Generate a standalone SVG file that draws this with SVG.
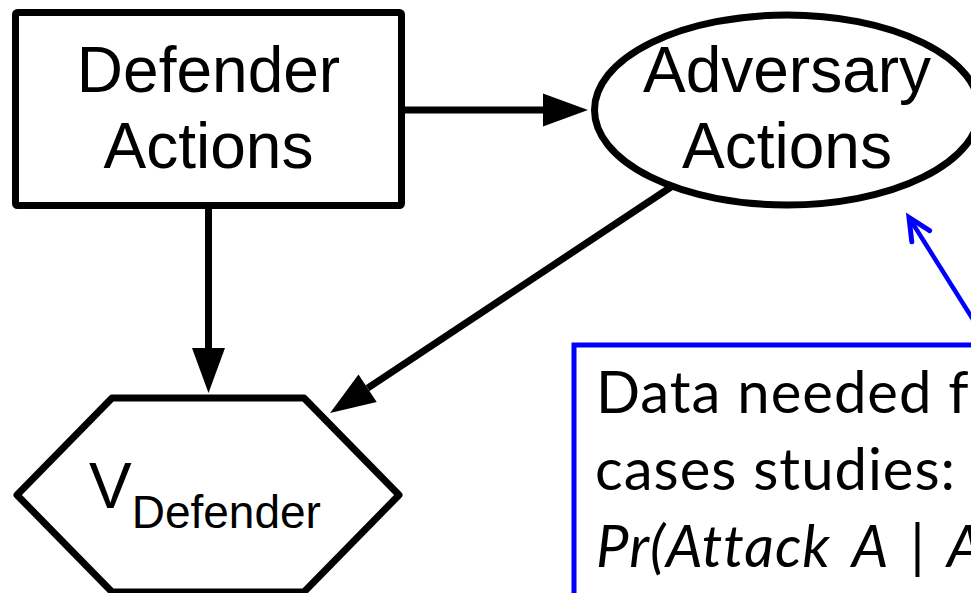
<svg xmlns="http://www.w3.org/2000/svg" width="971" height="593" viewBox="0 0 971 593">
<style>
.shape{fill:#fff;stroke:#000;stroke-width:7;stroke-linejoin:round}
.lbl{font-family:"Liberation Sans",Arial,sans-serif;font-size:64px;fill:#000;text-anchor:middle}
.edge{stroke:#000;stroke-width:7;fill:none}
.note{font-family:Lato,"Open Sans",sans-serif;font-size:58px;fill:#000;letter-spacing:1px;font-variant-ligatures:none}
</style>
<defs>
<marker id="ah" markerUnits="userSpaceOnUse" markerWidth="46" markerHeight="34" refX="0" refY="16.5" orient="auto" overflow="visible">
<path d="M0,0 L45,16.5 L0,33 Z" fill="#000"/>
</marker>
<marker id="bh" markerUnits="userSpaceOnUse" markerWidth="30" markerHeight="30" refX="0" refY="0" orient="auto" overflow="visible">
<path d="M-22,-10.5 L0,0 L-22,10.5" fill="none" stroke="#0000FF" stroke-width="5" stroke-linecap="round" stroke-linejoin="miter"/>
</marker>
</defs>
<rect width="971" height="593" fill="#fff"/>
<g id="connectors">
<line class="edge" x1="405" y1="110" x2="543" y2="110" marker-end="url(#ah)"/>
<line class="edge" x1="208.5" y1="209" x2="208.5" y2="348" marker-end="url(#ah)"/>
<line class="edge" x1="671" y1="187" x2="367.6" y2="388.2" marker-end="url(#ah)"/>
<line x1="989" y1="345" x2="909" y2="217.5" stroke="#0000FF" stroke-width="4.5" marker-end="url(#bh)"/>
</g>
<g id="defender-actions">
<rect class="shape" x="15.5" y="12.5" width="386" height="193" rx="2"/>
<text class="lbl" x="208.5" y="91.5">Defender</text>
<text class="lbl" x="208.5" y="168">Actions</text>
</g>
<g id="adversary-actions">
<ellipse class="shape" cx="787" cy="110" rx="192.5" ry="95"/>
<text class="lbl" x="787" y="91.5">Adversary</text>
<text class="lbl" x="787" y="168">Actions</text>
</g>
<g id="v-defender">
<polygon class="shape" points="17,495 112,398 304,398 399,495 304,592 112,592"/>
<text x="89" y="508" style="font-family:'Liberation Sans',Arial,sans-serif;font-size:64px;fill:#000">V<tspan dy="20" style="font-size:46px">Defender</tspan></text>
</g>
<g id="data-note">
<rect x="574" y="345" width="500" height="300" fill="#fff" stroke="#0000FF" stroke-width="5"/>
<text class="note" x="596" y="413">Data needed fr</text>
<text class="note" x="595" y="490">cases studies:</text>
<text class="note" x="596" y="567" font-style="italic" word-spacing="8px">Pr(Attack A | A</text>
</g>
</svg>
